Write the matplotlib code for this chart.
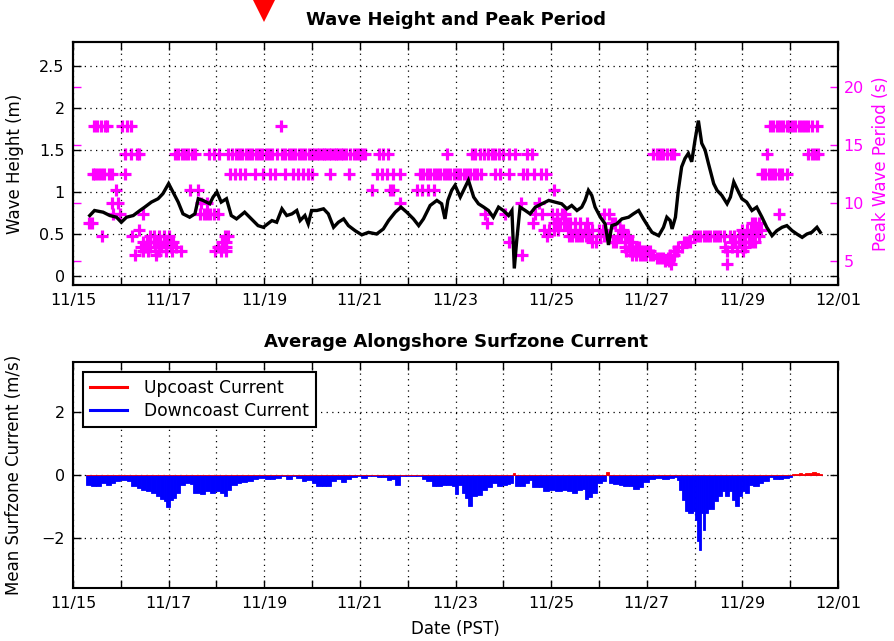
import numpy as np
import matplotlib
matplotlib.use("Agg")
import matplotlib.pyplot as plt
from matplotlib.lines import Line2D
import matplotlib.transforms as mtransforms

# ---------------- data ----------------
# time axis in days of November (12/01 == 31)
xtick_days = list(range(15, 32))
xtick_labels = ["11/15", "", "11/17", "", "11/19", "", "11/21", "", "11/23", "",
                "11/25", "", "11/27", "", "11/29", "", "12/01"]

wave_days = [15.35, 15.45, 15.63, 15.77, 15.91, 16.01, 16.12, 16.26, 16.40, 16.50,
             16.64, 16.78, 16.88, 17.00, 17.09, 17.20, 17.30, 17.44, 17.55, 17.62,
             17.72, 17.86, 17.93, 18.01, 18.10, 18.21, 18.31, 18.42, 18.59, 18.73,
             18.87, 18.98, 19.16, 19.26, 19.37, 19.47, 19.58, 19.68, 19.75, 19.85,
             19.92, 19.99, 20.10, 20.24, 20.34, 20.45, 20.55, 20.66, 20.76, 20.90,
             21.04, 21.18, 21.35, 21.49, 21.60, 21.74, 21.86, 21.98, 22.12, 22.23,
             22.33, 22.47, 22.61, 22.71, 22.78, 22.84, 22.92, 22.99, 23.10, 23.27,
             23.38, 23.48, 23.59, 23.69, 23.79, 23.90, 24.00, 24.11, 24.18, 24.23,
             24.28, 24.35, 24.46, 24.56, 24.67, 24.81, 24.95, 25.08, 25.22, 25.33,
             25.43, 25.54, 25.64, 25.71, 25.78, 25.85, 25.92, 26.03, 26.13, 26.20,
             26.27, 26.37, 26.48, 26.62, 26.72, 26.83, 26.93, 27.04, 27.11, 27.25,
             27.35, 27.42, 27.49, 27.53, 27.60, 27.66, 27.73, 27.80, 27.87, 27.94,
             28.01, 28.08, 28.15, 28.22, 28.29, 28.40, 28.47, 28.57, 28.68, 28.75,
             28.82, 28.92, 28.99, 29.09, 29.20, 29.30, 29.41, 29.51, 29.62, 29.72,
             29.83, 29.93, 30.04, 30.14, 30.25, 30.35, 30.45, 30.56, 30.63]
wave_height = [0.72, 0.78, 0.76, 0.72, 0.70, 0.64, 0.70, 0.72, 0.78, 0.82,
               0.88, 0.92, 0.98, 1.10, 1.00, 0.88, 0.74, 0.70, 0.74, 0.92,
               0.90, 0.86, 0.94, 1.00, 0.88, 0.92, 0.72, 0.68, 0.76, 0.68,
               0.60, 0.58, 0.66, 0.64, 0.80, 0.72, 0.74, 0.78, 0.66, 0.72,
               0.62, 0.78, 0.78, 0.80, 0.74, 0.58, 0.64, 0.68, 0.60, 0.54,
               0.49, 0.52, 0.50, 0.56, 0.66, 0.76, 0.82, 0.76, 0.68, 0.60,
               0.68, 0.84, 0.90, 0.86, 0.68, 0.90, 1.02, 1.08, 0.94, 1.14,
               0.94, 0.86, 0.82, 0.78, 0.70, 0.82, 0.78, 0.72, 0.78, 0.09,
               0.42, 0.82, 0.78, 0.74, 0.82, 0.86, 0.90, 0.88, 0.86, 0.80,
               0.84, 0.78, 0.82, 0.90, 1.02, 0.96, 0.82, 0.70, 0.62, 0.37,
               0.60, 0.62, 0.68, 0.70, 0.74, 0.78, 0.68, 0.58, 0.52, 0.48,
               0.58, 0.70, 0.66, 0.56, 0.70, 1.02, 1.30, 1.40, 1.46, 1.36,
               1.62, 1.85, 1.58, 1.50, 1.34, 1.10, 1.02, 0.96, 0.86, 0.94,
               1.12, 1.00, 0.92, 0.88, 0.78, 0.82, 0.70, 0.58, 0.48, 0.54,
               0.58, 0.60, 0.54, 0.50, 0.46, 0.50, 0.52, 0.58, 0.52]

# peak period: days at which each period bin (1/f, f = 0.06 ... 0.21 Hz) was observed
period_bins = [16.67, 14.29, 12.5, 11.11, 10.0, 9.09, 8.33, 7.69, 7.14, 6.67,
               6.25, 5.88, 5.56, 5.26, 5.0, 4.76]
t_167 = [15.43, 15.50, 15.58, 15.67, 15.72, 16.02, 16.12, 16.22, 19.35, 29.58,
         29.65, 29.72, 29.79, 29.86, 29.93, 29.97, 30.04, 30.11, 30.18, 30.24,
         30.31, 30.38, 30.45, 30.56]
t_143 = [16.09, 16.21, 16.33, 16.38, 17.13, 17.20, 17.27, 17.34, 17.41, 17.48,
         17.55, 17.85, 17.95, 18.05, 18.25, 18.32, 18.40, 18.47, 18.54, 18.61,
         18.68, 18.75, 18.82, 18.89, 18.96, 19.03, 19.10, 19.17, 19.27, 19.37,
         19.44, 19.51, 19.58, 19.65, 19.72, 19.79, 19.86, 19.93, 20.00, 20.05,
         20.10, 20.15, 20.20, 20.25, 20.30, 20.35, 20.40, 20.45, 20.50, 20.55,
         20.60, 20.65, 20.72, 20.80, 20.87, 20.93, 21.00, 21.05, 21.11, 21.39,
         21.49, 21.58, 22.82, 23.34, 23.41, 23.52, 23.59, 23.69, 23.76, 23.83,
         23.90, 24.00, 24.11, 24.25, 24.49, 24.60, 27.14, 27.21, 27.28, 27.35,
         27.42, 27.50, 27.56, 29.51, 30.38, 30.45, 30.52, 30.59]
t_125 = [15.41, 15.47, 15.53, 15.59, 15.65, 15.75, 15.81, 16.09, 18.28, 18.39,
         18.49, 18.60, 18.81, 18.98, 19.12, 19.23, 19.44, 19.61, 19.71, 19.82,
         19.92, 19.99, 20.38, 20.78, 21.35, 21.46, 21.56, 21.70, 21.84, 22.26,
         22.33, 22.40, 22.47, 22.54, 22.61, 22.68, 22.75, 22.82, 22.89, 22.96,
         23.03, 23.10, 23.17, 23.24, 23.31, 23.38, 23.45, 23.53, 23.83, 23.93,
         24.11, 24.42, 24.50, 24.64, 24.78, 24.90, 29.41, 29.48, 29.55, 29.62,
         29.69, 29.76, 29.83, 29.93]
t_111 = [15.90, 17.45, 17.62, 21.25, 21.62, 21.70, 22.19, 22.30, 22.42, 22.54, 25.07]
t_100 = [15.81, 15.95, 17.68, 17.80, 21.84, 24.37, 24.75]
t_91 = [15.84, 15.98, 16.47, 17.66, 17.74, 17.80, 17.87, 17.94, 18.04, 23.62,
        24.04, 24.66, 24.80, 25.02, 25.12, 25.22, 25.29, 26.10, 26.20, 29.77]
t_83 = [15.34, 15.39, 23.65, 24.63, 25.05, 25.12, 25.19, 25.26, 25.33, 25.40,
        25.50, 25.61, 25.75, 26.27, 26.34, 29.20, 29.27, 29.34]
t_77 = [16.39, 24.85, 24.95, 25.05, 25.15, 25.36, 25.50, 25.60, 25.70, 25.78,
        25.85, 26.00, 26.08, 26.44, 26.50, 29.00, 29.10, 29.17, 29.24, 29.31, 29.38]
t_71 = [15.60, 16.23, 16.60, 16.70, 16.80, 16.90, 17.00, 18.18, 18.24, 24.91,
        25.37, 25.44, 25.51, 25.58, 25.65, 25.72, 25.79, 26.02, 26.10, 26.20,
        26.40, 26.47, 26.54, 26.61, 27.98, 28.05, 28.12, 28.19, 28.26, 28.33,
        28.40, 28.47, 28.54, 28.61, 28.75, 28.82, 28.92, 29.06, 29.13, 29.23, 29.34]
t_67 = [16.47, 16.55, 16.62, 16.69, 16.76, 16.83, 16.90, 16.97, 17.04, 17.10,
        18.11, 18.21, 24.11, 25.86, 25.93, 26.30, 26.36, 26.55, 26.62, 26.69,
        27.77, 27.84, 27.91, 28.78, 28.85, 28.92, 28.99, 29.06, 29.13, 29.20, 29.27]
t_63 = [16.42, 16.50, 16.60, 16.72, 16.85, 16.95, 17.05, 17.15, 18.04, 18.14,
        18.20, 26.55, 26.62, 26.70, 26.77, 26.84, 27.66, 27.73, 28.64, 28.78,
        28.99, 29.06]
t_59 = [16.46, 16.56, 16.80, 16.94, 17.08, 17.26, 17.98, 18.10, 18.20, 26.57,
        26.66, 26.73, 26.80, 26.87, 26.94, 27.00, 27.07, 27.56, 27.63, 28.67,
        28.88, 29.02]
t_56 = [16.29, 16.74, 24.39, 26.70, 26.77, 26.85, 26.92, 26.99, 27.06, 27.13,
        27.49, 27.56]
t_53 = [27.21, 27.28, 27.35, 27.45]
t_50 = [27.38, 27.46]
t_48 = [27.50, 28.67]
period_times = [t_167, t_143, t_125, t_111, t_100, t_91, t_83, t_77, t_71, t_67,
                t_63, t_59, t_56, t_53, t_50, t_48]

# mean surfzone current (left edge time of each bar, value)
current_days = [15.27, 15.38, 15.49, 15.59, 15.70, 15.80, 15.87, 15.98, 16.12, 16.22,
                16.33, 16.43, 16.53, 16.64, 16.74, 16.83, 16.90, 16.95, 17.02, 17.09,
                17.16, 17.23, 17.34, 17.44, 17.52, 17.65, 17.76, 17.86, 17.96, 18.07,
                18.15, 18.22, 18.31, 18.42, 18.52, 18.63, 18.77, 18.87, 19.01, 19.11,
                19.22, 19.36, 19.46, 19.57, 19.67, 19.78, 19.88, 19.99, 20.09, 20.20,
                20.30, 20.40, 20.51, 20.61, 20.72, 20.82, 20.93, 21.03, 21.14, 21.24,
                21.35, 21.45, 21.56, 21.66, 21.73, 21.83, 21.97, 22.18, 22.29, 22.39,
                22.50, 22.60, 22.71, 22.81, 22.92, 22.99, 23.06, 23.13, 23.20, 23.27,
                23.34, 23.45, 23.55, 23.65, 23.76, 23.86, 23.97, 24.07, 24.14, 24.21,
                24.25, 24.35, 24.46, 24.53, 24.61, 24.74, 24.84, 24.95, 25.08, 25.22,
                25.33, 25.43, 25.54, 25.64, 25.71, 25.78, 25.85, 25.96, 26.06, 26.14,
                26.20, 26.30, 26.41, 26.51, 26.62, 26.72, 26.83, 26.93, 27.04, 27.18,
                27.32, 27.46, 27.56, 27.63, 27.68, 27.73, 27.79, 27.87, 27.96, 28.01,
                28.05, 28.10, 28.14, 28.17, 28.21, 28.29, 28.40, 28.50, 28.57, 28.64,
                28.71, 28.78, 28.85, 28.92, 28.99, 29.06, 29.13, 29.23, 29.34, 29.44,
                29.55, 29.65, 29.76, 29.86, 29.97, 30.04, 30.11, 30.18, 30.25, 30.32,
                30.39, 30.46, 30.53, 30.60]
current_vals = [-0.31, -0.34, -0.36, -0.25, -0.31, -0.25, -0.20, -0.17, -0.20, -0.34,
                -0.41, -0.48, -0.52, -0.57, -0.65, -0.76, -0.83, -1.01, -0.78, -0.73,
                -0.57, -0.31, -0.25, -0.27, -0.57, -0.59, -0.52, -0.57, -0.52, -0.57,
                -0.65, -0.46, -0.31, -0.25, -0.23, -0.20, -0.13, -0.09, -0.13, -0.13,
                -0.09, -0.04, -0.13, -0.04, -0.09, -0.20, -0.17, -0.25, -0.34, -0.36,
                -0.34, -0.20, -0.13, -0.23, -0.13, -0.06, -0.04, -0.09, -0.04, -0.02,
                -0.06, -0.06, -0.17, -0.13, -0.31, -0.04, -0.02, -0.04, -0.13, -0.20,
                -0.34, -0.34, -0.31, -0.31, -0.36, -0.59, -0.31, -0.57, -0.73, -0.97,
                -0.67, -0.62, -0.46, -0.38, -0.25, -0.34, -0.31, -0.27, -0.25, 0.06,
                -0.34, -0.36, -0.25, -0.15, -0.38, -0.38, -0.52, -0.48, -0.52, -0.46,
                -0.52, -0.57, -0.48, -0.44, -0.76, -0.69, -0.57, -0.25, -0.20, 0.10,
                -0.25, -0.27, -0.31, -0.34, -0.36, -0.44, -0.38, -0.23, -0.13, -0.09,
                -0.13, -0.09, -0.06, -0.17, -0.46, -0.78, -1.15, -1.20, -1.15, -1.41,
                -2.09, -2.38, -1.20, -1.73, -1.20, -1.09, -0.83, -0.67, -0.52, -0.67,
                -0.52, -0.78, -0.97, -0.67, -0.52, -0.57, -0.31, -0.36, -0.25, -0.20,
                -0.06, -0.13, -0.13, -0.09, -0.06, 0.04, 0.03, 0.05, 0.04, 0.06,
                0.05, 0.10, 0.06, 0.04]
current_end_day = 30.66

marker_day = 19.0

# ---------------- figure ----------------
plt.rcParams["font.family"] = ["DejaVu Sans"]
plt.rcParams["xtick.direction"] = "in"
plt.rcParams["ytick.direction"] = "in"
plt.rcParams["axes.linewidth"] = 1.5

W, H = 894, 641
fig = plt.figure(figsize=(W / 100, H / 100), dpi=100)
fig.patch.set_facecolor("white")


def rect(l, t, r, b):
    return [l / W, 1 - b / H, (r - l) / W, (b - t) / H]


MAG = "#ff00ff"
GRID = dict(color="black", linestyle=(0, (1, 3.5)), linewidth=0.9)
TICKFS = 11.5
LABFS = 12

# ---- top panel ----
ax1 = fig.add_axes(rect(73, 42, 838, 285))
ax2 = ax1.twinx()
ax1.set_zorder(ax2.get_zorder() + 1)
ax1.patch.set_visible(False)

for tlist, p in zip(period_times, period_bins):
    ax2.plot(tlist, [p] * len(tlist), linestyle="none", marker="+", color=MAG,
             markersize=8.5, markeredgewidth=2.3)
ax1.plot(wave_days, wave_height, color="black", linewidth=2.4, solid_joinstyle="miter")

ax1.set_xlim(15, 31)
ax1.set_ylim(-0.107, 2.786)
ax2.set_ylim(2.93, 23.93)
ax1.set_xticks(xtick_days)
ax1.set_xticklabels(xtick_labels, fontsize=TICKFS)
ax1.set_yticks([0, 0.5, 1, 1.5, 2, 2.5])
ax1.set_yticklabels(["0", "0.5", "1", "1.5", "2", "2.5"], fontsize=TICKFS)
ax2.set_yticks([5, 10, 15, 20])
ax2.set_yticklabels(["5", "10", "15", "20"], fontsize=TICKFS, color=MAG)
ax1.tick_params(axis="both", length=6, width=1.0, top=True, right=True, pad=6)
ax2.tick_params(axis="y", length=6, width=1.0, colors=MAG, left=True, right=True,
                labelleft=False, pad=4)
for s in ax2.spines.values():
    s.set_color("black")
ax1.grid(True, **GRID)
ax1.set_ylabel("Wave Height (m)", fontsize=LABFS, labelpad=11)
ax2.set_ylabel("Peak Wave Period (s)", fontsize=LABFS, color=MAG, labelpad=6)
ax1.set_title("Wave Height and Peak Period", fontsize=13, fontweight="bold", pad=12)

# red marker above the top panel
tr = mtransforms.blended_transform_factory(ax1.transData, fig.transFigure)
fig.add_artist(Line2D([marker_day], [1 - 10 / H], transform=tr, marker="v",
                      markersize=17.5, color="red", markeredgewidth=0, linestyle="none"))

# ---- bottom panel ----
ax3 = fig.add_axes(rect(73, 362, 838, 588))
cd = np.array(current_days)
cv = np.array(current_vals)
widths = np.diff(np.append(cd, current_end_day))
up = np.where(cv > 0, cv, 0.0)
down = np.where(cv < 0, cv, 0.0)
ax3.bar(cd, down, width=widths, align="edge", color="#0000ff", edgecolor="#0000ff",
        linewidth=0.6, zorder=2)
ax3.bar(cd, up, width=widths, align="edge", color="#ff0000", edgecolor="#ff0000",
        linewidth=0.6, zorder=2)
ax3.plot([], [], color="#ff0000", linewidth=2.2, label="Upcoast Current")
ax3.plot([], [], color="#0000ff", linewidth=2.2, label="Downcoast Current")

ax3.set_xlim(15, 31)
ax3.set_ylim(-3.58, 3.58)
ax3.set_xticks(xtick_days)
ax3.set_xticklabels(xtick_labels, fontsize=TICKFS)
ax3.set_yticks([-2, 0, 2])
ax3.set_yticklabels(["\u22122", "0", "2"], fontsize=TICKFS)
ax3.tick_params(axis="both", length=6, width=1.0, top=True, right=True, pad=6)
ax3.grid(True, zorder=0, **GRID)
ax3.set_axisbelow(True)
ax3.set_ylabel("Mean Surfzone Current (m/s)", fontsize=LABFS, labelpad=13)
ax3.set_xlabel("Date (PST)", fontsize=LABFS, labelpad=6)
ax3.set_title("Average Alongshore Surfzone Current", fontsize=13, fontweight="bold", pad=11)
leg = ax3.legend(loc="upper left", bbox_to_anchor=(0.013, 0.956), borderaxespad=0,
                 fontsize=12.3, fancybox=False, framealpha=1, edgecolor="black",
                 handlelength=2.2, handletextpad=1.0, labelspacing=0.3, borderpad=0.4)
leg.get_frame().set_linewidth(1.5)
leg.set_zorder(5)

fig.savefig("out.png", dpi=100, facecolor="white")
